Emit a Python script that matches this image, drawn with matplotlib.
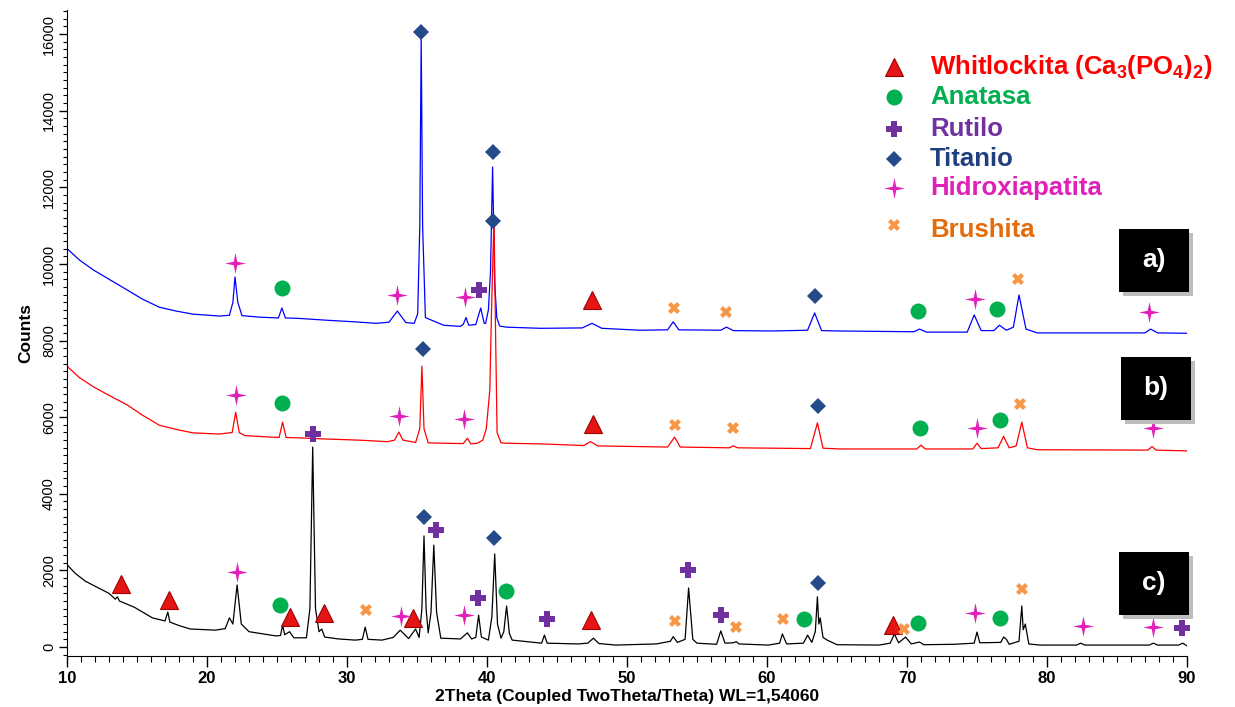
import matplotlib
matplotlib.use("Agg")
import matplotlib.pyplot as plt
from matplotlib.patches import Rectangle
from matplotlib.path import Path
from matplotlib.ticker import MultipleLocator

plt.rcParams["font.family"] = ["Liberation Sans", "DejaVu Sans"]
plt.rcParams["mathtext.fontset"] = "custom"
plt.rcParams["mathtext.rm"] = "Liberation Sans:bold"
plt.rcParams["mathtext.default"] = "rm"

# ---------- data (2theta, counts) ----------
a_x = [10.0, 10.9, 11.9, 13.1, 14.3, 15.4, 16.6, 17.8, 19.0, 20.9, 21.6, 21.85, 22.0, 22.2, 22.5,
       23.8, 25.1, 25.35, 25.6, 26.5, 28.6, 30.5, 32.1, 33.0, 33.6, 34.2, 34.8, 35.05, 35.2, 35.3,
       35.4, 35.6, 36.9, 38.1, 38.3, 38.5, 38.7, 39.2, 39.55, 39.8, 39.9, 40.1, 40.25, 40.4, 40.55,
       40.7, 40.9, 41.4, 43.8, 46.8, 47.5, 48.2, 50.9, 52.9, 53.3, 53.7, 56.7, 57.1, 57.6, 60.4,
       62.9, 63.4, 63.9, 65.2, 70.5, 70.9, 71.4, 74.3, 74.8, 75.3, 76.2, 76.6, 77.1, 77.6, 78.0,
       78.5, 79.3, 87.0, 87.4, 87.9, 90.0]
a_y = [10400, 10100, 9840, 9580, 9320, 9080, 8870, 8770, 8690, 8640, 8660, 9000, 9660, 9000, 8650,
       8610, 8590, 8850, 8590, 8580, 8530, 8490, 8450, 8480, 8770, 8470, 8450, 8700, 11000, 15920,
       11000, 8600, 8400, 8370, 8420, 8600, 8400, 8420, 8850, 8450, 8450, 8800, 9800, 12530, 9500,
       8600, 8380, 8350, 8320, 8330, 8450, 8320, 8270, 8280, 8490, 8280, 8270, 8350, 8260, 8250,
       8270, 8720, 8260, 8250, 8230, 8300, 8220, 8220, 8670, 8260, 8260, 8400, 8270, 8350, 9190,
       8300, 8200, 8200, 8300, 8200, 8190]

b_x = [10.0, 10.9, 11.9, 13.1, 14.3, 15.4, 16.6, 17.8, 19.0, 20.9, 21.8, 22.05, 22.3, 22.7, 24.5,
       25.15, 25.4, 25.65, 26.5, 28.5, 30.9, 32.9, 33.4, 33.7, 34.0, 34.9, 35.2, 35.35, 35.5, 35.8,
       36.9, 38.3, 38.6, 38.85, 39.3, 39.7, 39.95, 40.2, 40.33, 40.5, 40.62, 40.72, 41.0, 41.4, 44.0,
       46.9, 47.4, 47.9, 52.9, 53.4, 53.8, 57.3, 57.6, 57.9, 63.1, 63.6, 64.0, 65.2, 70.7, 71.0,
       71.3, 74.7, 75.0, 75.3, 76.5, 76.9, 77.3, 77.8, 78.2, 78.6, 79.3, 87.2, 87.5, 87.8, 90.0]
b_y = [7330, 7030, 6790, 6550, 6320, 6050, 5790, 5680, 5590, 5560, 5600, 6130, 5600, 5520, 5480,
       5470, 5870, 5470, 5460, 5430, 5400, 5360, 5400, 5610, 5400, 5340, 5700, 7330, 5700, 5330,
       5320, 5310, 5450, 5300, 5320, 5400, 5700, 6700, 8900, 11200, 8000, 5600, 5330, 5320, 5300,
       5260, 5360, 5250, 5220, 5480, 5220, 5200, 5250, 5200, 5180, 5850, 5190, 5170, 5170, 5270,
       5170, 5170, 5320, 5180, 5200, 5500, 5200, 5250, 5870, 5200, 5150, 5140, 5230, 5140, 5120]

c_x = [10.0, 10.6, 11.3, 12.1, 13.0, 13.45, 13.6, 13.75, 14.8, 16.1, 17.0, 17.2, 17.35, 18.0, 18.8,
       20.6, 21.3, 21.6, 21.85, 22.15, 22.45, 23.0, 24.9, 25.25, 25.4, 25.55, 25.9, 26.2, 27.1, 27.35,
       27.55, 27.75, 28.0, 28.2, 28.4, 29.4, 30.6, 31.1, 31.3, 31.5, 32.5, 33.3, 33.8, 34.4, 34.9,
       35.15, 35.35, 35.5, 35.65, 35.8, 36.0, 36.2, 36.4, 36.7, 38.1, 38.6, 38.9, 39.2, 39.4, 39.6,
       40.1, 40.35, 40.55, 40.75, 41.0, 41.2, 41.4, 41.6, 41.8, 43.9, 44.1, 44.3, 46.5, 47.2, 47.6,
       48.0, 49.2, 52.1, 53.1, 53.3, 53.6, 54.15, 54.4, 54.7, 55.0, 56.4, 56.7, 57.0, 57.6, 57.8,
       58.0, 60.1, 60.9, 61.1, 61.4, 62.6, 62.9, 63.2, 63.45, 63.6, 63.7, 63.8, 64.0, 64.3, 65.0,
       68.0, 68.8, 69.1, 69.4, 69.9, 70.3, 70.9, 71.2, 73.3, 74.8, 75.0, 75.2, 76.7, 76.9, 77.1,
       77.3, 78.0, 78.2, 78.3, 78.45, 78.7, 79.5, 82.1, 82.4, 82.7, 87.3, 87.6, 87.9, 89.4, 89.7,
       90.0]
c_y = [2150, 1920, 1720, 1570, 1400, 1250, 1310, 1200, 1040, 760, 680, 910, 650, 560, 470,
       440, 480, 760, 600, 1620, 600, 400, 290, 300, 570, 320, 400, 240, 240, 1000,
       5220, 1000, 400, 470, 260, 210, 180, 200, 520, 200, 180, 250, 440, 220, 470,
       250, 1000, 2900, 1000, 370, 900, 2660, 900, 230, 210, 370, 210, 250, 830, 260,
       180, 800, 2430, 600, 230, 400, 1070, 350, 180, 100, 310, 100, 80, 100, 230,
       90, 50, 80, 150, 270, 120, 200, 1540, 200, 100, 70, 420, 100, 110, 140,
       80, 50, 100, 340, 80, 100, 310, 120, 400, 1310, 600, 760, 250, 180, 60,
       50, 100, 340, 110, 260, 80, 130, 60, 70, 100, 390, 110, 120, 260, 200,
       70, 150, 1070, 450, 600, 80, 50, 50, 100, 50, 50, 100, 50, 50, 100,
       30]

# phase markers: (2theta, counts)
whitlockita = [(47.5, 9060), (47.6, 5820), (13.86, 1650), (17.25, 1230), (25.9, 780), (28.33, 880),
               (34.7, 760), (47.46, 700), (69.02, 570)]
anatasa = [(25.35, 9370), (70.8, 8770), (76.45, 8820), (25.35, 6370), (70.95, 5720), (76.65, 5920),
           (25.24, 1100), (41.38, 1460), (62.64, 730), (70.79, 620), (76.64, 760)]
rutilo = [(39.45, 9320), (27.6, 5560), (36.36, 3050), (39.34, 1280), (44.29, 730), (54.39, 2010),
          (56.69, 830), (89.65, 500)]
titanio = [(35.3, 16050), (40.4, 12920), (63.45, 9160), (35.4, 7780), (40.45, 11120), (63.65, 6290),
           (35.48, 3390), (40.5, 2850), (63.64, 1670)]
hidroxiapatita = [(22.0, 10020), (33.6, 9190), (38.43, 9140), (74.86, 9080), (87.3, 8740),
                  (22.1, 6570), (33.7, 6030), (38.36, 5950), (75.0, 5710), (87.55, 5720),
                  (22.14, 1960), (33.83, 810), (38.39, 830), (74.84, 890), (82.57, 550), (87.57, 520)]
brushita = [(53.36, 8850), (57.1, 8740), (77.94, 9600), (53.43, 5790), (57.55, 5720), (78.07, 6340),
            (31.33, 960), (53.41, 680), (57.76, 520), (61.14, 730), (69.8, 470), (78.2, 1510)]

phase_names = ["Whitlockita (Ca$_3$(PO$_4$)$_2$)", "Anatasa", "Rutilo", "Titanio",
               "Hidroxiapatita", "Brushita"]
panel_labels = ["a)", "b)", "c)"]

# ---------- styles ----------
star_path = Path([(0, 1), (0.17, 0.17), (1, 0), (0.17, -0.17), (0, -1), (-0.17, -0.17),
                  (-1, 0), (-0.17, 0.17), (0, 1)], closed=True)

styles = [
    dict(marker="^", ms=13, mfc="#E51515", mec="#9E0000", mew=0.8),
    dict(marker="o", ms=11.5, mfc="#00B050", mec="#00B050", mew=0),
    dict(marker="P", ms=12, mfc="#7030A0", mec="#7030A0", mew=0),
    dict(marker="D", ms=8.5, mfc="#254A8A", mec="#254A8A", mew=0),
    dict(marker=star_path, ms=15, mfc="#E020B8", mec="#E020B8", mew=0),
    dict(marker="X", ms=8.5, mfc="#F79646", mec="#F79646", mew=0),
]
text_colors = ["#FF0000", "#00B050", "#7030A0", "#1F3F80", "#E020B8", "#E46C0A"]

fig = plt.figure(figsize=(12.35, 7.07), dpi=100)
ax = fig.add_axes([67 / 1235, 1 - 656 / 707, 1120 / 1235, 646 / 707])

ax.plot(a_x, a_y, color="#0000FF", lw=0.9)
ax.plot(b_x, b_y, color="#FF0000", lw=0.9)
ax.plot(c_x, c_y, color="black", lw=0.9)

for pts, st in zip([whitlockita, anatasa, rutilo, titanio, hidroxiapatita, brushita], styles):
    xs = [p[0] for p in pts]
    ys = [p[1] for p in pts]
    ax.plot(xs, ys, ls="none", zorder=5, clip_on=False, **st)

ax.set_xlim(10, 90)
ax.set_ylim(-235, 16630)
ax.spines["top"].set_visible(False)
ax.spines["right"].set_visible(False)
ax.xaxis.set_major_locator(MultipleLocator(10))
ax.xaxis.set_minor_locator(MultipleLocator(1))
ax.yaxis.set_major_locator(MultipleLocator(2000))
ax.yaxis.set_minor_locator(MultipleLocator(200))
ax.tick_params(axis="x", which="major", length=8, width=1, labelsize=12, pad=3)
ax.tick_params(axis="x", which="minor", length=4, width=0.8)
ax.tick_params(axis="y", which="major", length=6, width=1, labelsize=10.5, pad=2)
ax.tick_params(axis="y", which="minor", length=3, width=0.8)
for lab in ax.get_xticklabels():
    lab.set_fontweight("bold")
for lab in ax.get_yticklabels():
    lab.set_rotation(90)
    lab.set_va("center")
ax.set_xlabel("2Theta (Coupled TwoTheta/Theta) WL=1,54060", fontsize=12.5, fontweight="bold", labelpad=2)
ax.set_ylabel("Counts", fontsize=12.5, fontweight="bold", labelpad=6)

# legend drawn by hand (pixel positions)
leg_rows = [67, 97, 129, 159, 188, 230]
mark_rows = [67, 97, 129, 159, 188, 225]
for name, st, col, ty, my in zip(phase_names, styles, text_colors, leg_rows, mark_rows):
    fig.lines.append(plt.Line2D([894 / 1235], [1 - my / 707], transform=fig.transFigure, ls="none", **st))
    fig.text(930 / 1235, 1 - ty / 707, name, color=col, fontsize=18.5, fontweight="bold", va="center")

# panel label boxes
boxes = [(1119, 229), (1121, 357), (1119, 552)]
for (bx, by), lab in zip(boxes, panel_labels):
    fig.patches.append(Rectangle(((bx + 4) / 1235, 1 - (by + 67) / 707), 70 / 1235, 63 / 707,
                                 transform=fig.transFigure, facecolor="#BDBDBD", edgecolor="none", zorder=8))
    fig.patches.append(Rectangle((bx / 1235, 1 - (by + 63) / 707), 70 / 1235, 63 / 707,
                                 transform=fig.transFigure, facecolor="black", edgecolor="none", zorder=9))
    fig.text((bx + 35) / 1235, 1 - (by + 31) / 707, lab, color="white", fontsize=19,
             fontweight="bold", ha="center", va="center", zorder=10)

fig.savefig("out.png", dpi=100)
